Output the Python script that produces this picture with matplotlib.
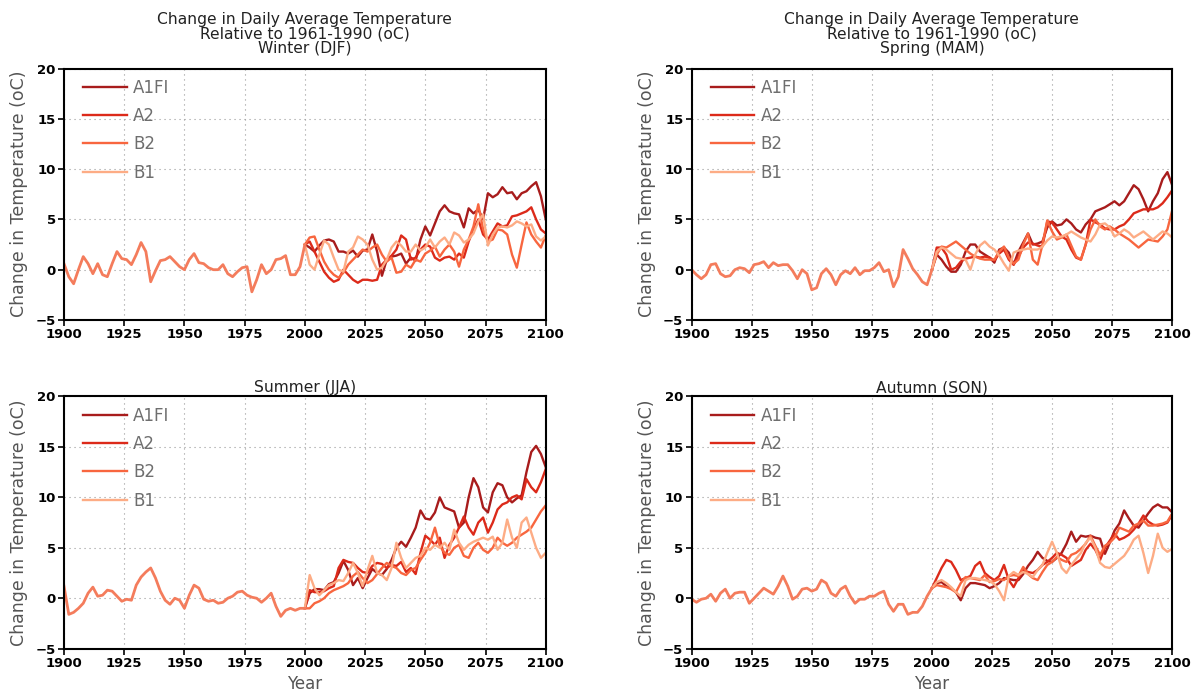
import matplotlib
matplotlib.use("Agg")
import matplotlib.pyplot as plt

# années : historique 1900-2000, scénarios 2000-2100 (pas de 2 ans)
hist_years = list(range(1900, 2001, 2))
proj_years = list(range(2000, 2101, 2))

scenarios = ["A1FI", "A2", "B2", "B1"]
colors = ["#a81c1c", "#dc2a1a", "#f8663f", "#fdac85"]
hist_color = "#f47c5c"

# --- Hiver (DJF)
winter_hist = [0.6, -0.7, -1.4, 0.0, 1.3, 0.6, -0.4, 0.6, -0.5, -0.7, 0.6,
               1.8, 1.1, 1.0, 0.5, 1.5, 2.7, 1.8, -1.2, -0.1, 0.9,
               1.0, 1.3, 0.8, 0.3, 0.0, 1.0, 1.6, 0.7, 0.6, 0.2,
               0.0, 0.0, 0.5, -0.4, -0.7, -0.2, 0.2, 0.3, -2.2, -1.0,
               0.5, -0.4, 0.0, 1.0, 1.1, 1.4, -0.5, -0.5, 0.3, 2.5]
winter_a1fi = [2.5, 2.2, 1.8, 2.4, 2.9, 3.0, 2.8, 1.8, 1.8, 1.6, 1.9,
               1.3, 1.9, 2.0, 3.5, 1.8, -0.6, 1.0, 1.3, 1.4, 1.6,
               0.6, 1.2, 0.9, 3.0, 4.3, 3.4, 4.6, 5.8, 6.4, 5.8,
               5.6, 5.5, 4.2, 6.1, 5.6, 6.0, 5.0, 7.6, 7.2, 7.5,
               8.2, 7.6, 7.7, 7.0, 7.6, 7.8, 8.3, 8.7, 7.3, 5.0]
winter_a2 = [2.5, 2.8, 1.8, 0.8, -0.2, -0.8, -1.2, -1.0, 0.0, -0.5, -1.0,
             -1.3, -1.0, -1.0, -1.1, -1.0, 0.5, 1.0, 1.4, 2.0, 3.4,
             3.0, 1.0, 1.2, 2.0, 2.5, 2.3, 1.2, 0.9, 1.2, 1.3,
             1.0, 1.6, 1.2, 2.8, 4.0, 5.0, 3.5, 3.0, 3.8, 4.6,
             4.3, 4.4, 5.3, 5.4, 5.6, 5.8, 6.2, 5.0, 4.0, 3.6]
winter_b2 = [2.5, 3.2, 3.3, 2.0, 0.8, 0.0, -0.5, -0.8, -0.3, 0.5, 1.0,
             1.5, 2.0, 1.8, 2.2, 2.5, 1.5, 0.8, 1.2, -0.3, -0.2,
             0.5, 0.2, 1.0, 0.8, 1.6, 1.9, 2.3, 1.3, 2.0, 2.5,
             1.8, 0.3, 2.0, 3.0, 4.3, 6.5, 4.0, 2.8, 3.0, 4.0,
             3.9, 3.5, 1.5, 0.2, 2.5, 4.7, 3.5, 2.8, 2.2, 3.4]
winter_b1 = [2.5, 0.5, 0.0, 1.5, 2.9, 2.5, 1.2, 0.0, -0.2, 1.8, 2.2,
             3.3, 3.0, 2.5, 1.0, 0.0, 0.2, 1.0, 2.2, 2.8, 2.4,
             1.8, 1.8, 2.5, 1.9, 2.2, 3.0, 2.2, 2.8, 3.2, 2.5,
             3.7, 3.4, 2.7, 3.0, 3.6, 4.8, 5.5, 2.4, 3.5, 4.2,
             4.3, 4.2, 4.4, 4.8, 4.6, 4.3, 4.5, 3.3, 2.9, 3.3]

# --- Printemps (MAM)
spring_hist = [0.0, -0.5, -0.9, -0.5, 0.5, 0.6, -0.4, -0.7, -0.6, 0.0, 0.2,
               0.1, -0.3, 0.5, 0.6, 0.8, 0.2, 0.7, 0.4, 0.5, 0.5,
               -0.1, -0.9, 0.0, -0.4, -2.0, -1.8, -0.4, 0.1, -0.5, -1.5,
               -0.5, -0.1, -0.4, 0.2, -0.5, -0.1, -0.1, 0.2, 0.7, -0.2,
               0.0, -1.7, -0.7, 2.0, 1.1, 0.1, -0.5, -1.2, -1.5, 0.0]
spring_a1fi = [0.0, 1.5, 1.0, 0.3, -0.2, -0.2, 0.5, 1.8, 2.5, 2.5, 1.8,
               1.5, 1.2, 0.7, 2.0, 2.2, 1.7, 0.5, 1.8, 2.7, 3.6,
               2.5, 2.6, 2.8, 4.2, 4.8, 4.4, 4.5, 5.0, 4.6, 4.0,
               3.7, 4.5, 5.0, 5.8, 6.0, 6.2, 6.5, 6.8, 6.4, 6.8,
               7.6, 8.4, 8.0, 7.0, 5.8, 6.8, 7.6, 9.0, 9.7, 8.4]
spring_a2 = [0.0, 2.2, 2.2, 1.5, 0.0, 0.2, 0.8, 1.1, 1.2, 1.3, 1.2,
             1.3, 1.2, 0.9, 1.6, 2.0, 1.0, 0.5, 1.3, 2.2, 2.7,
             2.6, 2.4, 2.3, 4.8, 4.7, 4.0, 3.3, 3.0, 2.0, 1.2,
             1.0, 2.5, 5.0, 4.7, 4.5, 4.1, 4.0, 4.0, 4.3, 4.5,
             5.0, 5.6, 5.8, 6.0, 6.0, 6.0, 6.2, 6.6, 7.2, 7.9]
spring_b2 = [0.0, 1.5, 2.3, 2.2, 2.5, 2.8, 2.4, 2.0, 1.6, 1.3, 1.1,
             1.0, 1.0, 1.0, 1.8, 2.3, 1.2, 0.6, 1.0, 2.5, 3.6,
             1.0, 0.5, 2.5, 4.9, 3.8, 3.0, 3.2, 3.5, 2.4, 1.3,
             1.0, 2.5, 4.0, 5.0, 4.3, 4.0, 4.3, 4.0, 3.6, 3.3,
             3.0, 2.6, 2.2, 2.6, 3.0, 2.9, 2.8, 3.3, 4.0, 5.9]
spring_b1 = [0.0, 1.8, 2.2, 2.0, 1.6, 1.2, 1.1, 1.0, 0.0, 1.5, 2.4,
             2.8, 2.3, 2.0, 1.4, 0.6, -0.1, 1.7, 1.9, 2.0, 2.1,
             2.0, 2.0, 2.3, 2.9, 3.3, 3.2, 3.3, 3.5, 3.8, 3.5,
             3.2, 3.0, 2.8, 3.5, 4.5, 4.6, 4.2, 3.3, 3.6, 4.0,
             3.7, 3.2, 3.5, 3.8, 3.4, 3.0, 3.4, 3.8, 3.6, 3.2]

# --- Eté (JJA)
summer_hist = [1.2, -1.6, -1.4, -1.0, -0.5, 0.5, 1.1, 0.2, 0.3, 0.8, 0.7,
               0.2, -0.3, -0.1, -0.2, 1.3, 2.1, 2.6, 3.0, 2.0, 0.7,
               -0.2, -0.6, 0.0, -0.2, -1.0, 0.3, 1.3, 1.0, -0.1, -0.3,
               -0.2, -0.5, -0.4, 0.0, 0.2, 0.6, 0.7, 0.3, 0.1, 0.0,
               -0.4, 0.0, 0.5, -0.8, -1.8, -1.2, -1.0, -1.2, -1.0, -1.0]
summer_a1fi = [-1.0, 0.5, 0.9, 0.9, 0.8, 1.4, 1.6, 2.5, 3.7, 2.8, 1.3,
               2.0, 1.0, 2.0, 2.9, 2.5, 2.3, 2.9, 3.8, 5.0, 5.6,
               5.1, 6.0, 7.0, 8.7, 7.9, 7.8, 8.5, 10.0, 9.0, 8.8,
               8.6, 7.0, 7.5, 10.0, 11.9, 11.0, 9.0, 8.5, 10.5, 11.4,
               11.2, 10.0, 9.5, 9.9, 10.2, 12.5, 14.5, 15.1, 14.3, 13.0]
summer_a2 = [-1.0, 0.8, 0.6, 0.6, 0.7, 1.0, 1.2, 3.0, 3.8, 3.6, 3.5,
             3.0, 2.6, 2.5, 3.2, 3.5, 3.4, 3.0, 3.3, 3.2, 3.6,
             2.6, 3.0, 2.4, 4.5, 6.2, 5.8, 5.3, 6.0, 4.0, 5.3,
             6.0, 7.0, 8.1, 7.0, 6.3, 7.5, 8.0, 6.5, 7.5, 8.8,
             9.3, 9.5, 10.0, 10.2, 9.8, 11.8, 11.0, 10.5, 11.5, 12.8]
summer_b2 = [-1.0, -1.0, -0.5, -0.3, 0.0, 0.5, 0.8, 1.0, 1.2, 1.5, 2.2,
             2.6, 2.0, 1.5, 1.8, 2.4, 3.0, 3.5, 3.2, 3.0, 2.5,
             2.3, 2.8, 3.0, 3.8, 4.5, 5.5, 7.0, 5.2, 4.5, 4.3,
             5.0, 5.3, 4.2, 4.0, 5.0, 5.5, 4.8, 4.5, 5.0, 6.0,
             5.5, 5.2, 5.5, 6.0, 6.3, 6.6, 7.0, 7.8, 8.6, 9.2]
summer_b1 = [-1.0, 2.3, 1.0, 0.3, 0.8, 1.3, 1.5, 1.8, 1.7, 2.5, 3.5,
             2.5, 1.2, 2.8, 4.2, 2.5, 2.3, 1.8, 3.0, 5.5, 4.0,
             3.0, 3.5, 4.0, 4.2, 5.0, 4.8, 5.3, 5.0, 5.5, 4.8,
             6.8, 5.5, 4.8, 5.3, 5.6, 5.8, 6.0, 5.8, 6.1, 4.8,
             5.5, 7.8, 6.0, 5.0, 7.5, 8.0, 6.5, 5.0, 4.0, 4.5]

# --- Automne (SON)
autumn_hist = [-0.1, -0.4, -0.1, 0.0, 0.4, -0.3, 0.5, 0.9, 0.0, 0.5, 0.6,
               0.6, -0.5, 0.0, 0.5, 1.0, 0.7, 0.4, 1.2, 2.2, 1.2,
               -0.1, 0.2, 0.9, 1.0, 0.7, 0.9, 1.8, 1.5, 0.5, 0.2,
               0.9, 1.2, 0.2, -0.5, -0.1, -0.1, 0.2, 0.2, 0.5, 0.7,
               -0.6, -1.3, -0.6, -0.6, -1.6, -1.4, -1.4, -0.8, 0.2, 1.0]
autumn_a1fi = [1.0, 1.5, 1.6, 1.2, 1.0, 0.6, -0.2, 1.0, 1.5, 1.5, 1.4,
               1.3, 1.0, 1.2, 1.5, 2.0, 1.9, 1.8, 1.8, 2.4, 3.2,
               3.8, 4.6, 4.0, 3.7, 3.6, 4.0, 4.5, 5.4, 6.6, 5.6,
               6.2, 6.1, 6.2, 6.0, 5.9, 4.4, 5.5, 6.7, 7.4, 8.7,
               7.9, 7.2, 7.0, 7.7, 8.4, 9.0, 9.3, 9.0, 9.0, 8.5]
autumn_a2 = [1.0, 2.0, 3.0, 3.8, 3.6, 2.8, 1.8, 2.0, 2.2, 3.2, 3.6,
             2.5, 2.1, 1.8, 2.2, 3.3, 1.8, 1.1, 2.0, 2.8, 2.6,
             2.5, 2.8, 3.3, 3.6, 4.0, 4.5, 4.3, 4.0, 3.2, 3.5,
             3.8, 4.8, 5.4, 4.8, 3.8, 5.0, 5.7, 6.4, 5.8, 6.0,
             6.3, 6.8, 7.4, 8.2, 7.6, 7.3, 7.2, 7.3, 7.5, 8.3]
autumn_b2 = [1.0, 1.3, 1.2, 1.1, 0.9, 0.6, 1.5, 2.1, 2.0, 1.9, 1.8,
             2.3, 1.6, 1.7, 1.9, 1.8, 2.2, 2.3, 2.2, 3.1, 2.4,
             2.0, 1.8, 2.6, 3.3, 3.6, 4.1, 3.8, 3.6, 4.3, 4.5,
             4.9, 5.4, 6.2, 5.2, 4.3, 5.2, 5.5, 6.0, 7.0, 6.8,
             6.6, 7.2, 7.4, 7.7, 7.2, 7.2, 7.3, 7.4, 7.6, 8.4]
autumn_b1 = [1.0, 1.6, 1.8, 1.5, 1.1, 0.6, 0.2, 1.8, 2.0, 2.0, 1.9,
             1.8, 1.7, 1.4, 0.7, -0.2, 2.2, 2.6, 2.3, 2.6, 2.4,
             2.1, 2.8, 3.3, 4.5, 5.6, 4.5, 3.0, 2.5, 3.3, 3.9,
             4.5, 5.5, 6.0, 5.0, 3.5, 3.1, 3.0, 3.4, 3.8, 4.2,
             4.9, 5.8, 6.2, 4.5, 2.5, 4.2, 6.4, 5.0, 4.6, 4.9]

panels = [
    ("Change in Daily Average Temperature\nRelative to 1961-1990 (oC)\nWinter (DJF)",
     winter_hist, [winter_a1fi, winter_a2, winter_b2, winter_b1]),
    ("Change in Daily Average Temperature\nRelative to 1961-1990 (oC)\nSpring (MAM)",
     spring_hist, [spring_a1fi, spring_a2, spring_b2, spring_b1]),
    ("Summer (JJA)", summer_hist, [summer_a1fi, summer_a2, summer_b2, summer_b1]),
    ("Autumn (SON)", autumn_hist, [autumn_a1fi, autumn_a2, autumn_b2, autumn_b1]),
]

# positions des axes (fractions de la figure)
boxes = [[0.0535, 0.5376, 0.4028, 0.3634], [0.5783, 0.5376, 0.4018, 0.3634],
         [0.0535, 0.0626, 0.4028, 0.3645], [0.5783, 0.0626, 0.4018, 0.3645]]

fig = plt.figure(figsize=(11.96, 6.92), dpi=100)

for i, (title, hist, series) in enumerate(panels):
    ax = fig.add_axes(boxes[i])
    for name, col, vals in zip(scenarios, colors, series):
        ax.plot(proj_years, vals, color=col, lw=1.7, label=name, solid_joinstyle="round")
    ax.plot(hist_years, hist, color=hist_color, lw=2.0, solid_joinstyle="round")

    ax.set_xlim(1900, 2100)
    ax.set_ylim(-5, 20)
    ax.set_xticks(range(1900, 2101, 25))
    ax.set_yticks(range(-5, 21, 5))
    ax.grid(True, linestyle=(0, (1, 3.5)), color="#999999", lw=0.8)
    for s in ax.spines.values():
        s.set_linewidth(1.5)
    ax.tick_params(direction="out", length=4, width=1.2, labelsize=9.5, pad=2)
    for lab in ax.get_xticklabels() + ax.get_yticklabels():
        lab.set_fontweight("bold")

    ax.set_ylabel("Change in Temperature (oC)", fontsize=12.5, color="#555555")
    ax.yaxis.set_label_coords(-0.075, 0.5)
    if i >= 2:
        ax.set_xlabel("Year", fontsize=12, color="#555555")
        ax.xaxis.set_label_coords(0.5, -0.105)
        ax.set_title(title, fontsize=11.2, color="#222222", pad=3)
    else:
        ax.set_title(title, fontsize=11.2, color="#222222", pad=11, linespacing=0.98)

    ax.legend(loc="upper left", bbox_to_anchor=(0.04, 0.96), frameon=False,
              fontsize=12, labelcolor="#6e6e6e", handlelength=2.6,
              handletextpad=0.4, labelspacing=0.62, borderpad=0, borderaxespad=0)

fig.savefig("out.png", dpi=100)
